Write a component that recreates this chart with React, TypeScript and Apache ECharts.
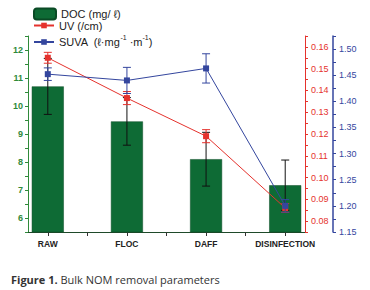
import React, { useEffect, useRef } from "react";
import * as echarts from "echarts";

const categories = ["RAW", "FLOC", "DAFF", "DISINFECTION"];
const catPos = [1, 2, 3, 4];
const docValues = [10.7, 9.45, 8.1, 7.17];
const docErr = [1.0, 0.85, 0.96, 0.9];
const uvValues = [0.155, 0.1365, 0.119, 0.086];
const uvErr = [0.0025, 0.003, 0.003, 0.002];
const suvaValues = [1.452, 1.44, 1.463, 1.2];
const suvaErr = [0.012, 0.025, 0.028, 0.012];

const DOC_NAME = "DOC (mg/ ℓ)";
const UV_NAME = "UV (/cm)";
const SUVA_NAME = "SUVA  (ℓ·mg-1 ·m-1)";

const GREEN = "#2f8a3a";
const BAR = "#0e6b35";
const RED = "#e5322d";
const BLUE = "#34469e";
const NUMFONT = "'Liberation Sans Narrow', 'Liberation Sans', Arial, sans-serif";
const LEGFONT = "'Liberation Sans', Arial, sans-serif";
const CAPFONT = "'Open Sans', sans-serif";

function errSeries(name: string, yIdx: number, vals: number[], errs: number[], color: string, z: number) {
  return {
    type: "custom",
    name: name + "_err",
    xAxisIndex: 0,
    yAxisIndex: yIdx,
    z,
    silent: true,
    encode: { x: 0, y: [1, 2] },
    data: vals.map((v, i) => [catPos[i], v - errs[i], v + errs[i]]),
    renderItem: (params: any, api: any) => {
      const x = api.value(0);
      const lo = api.coord([x, api.value(1)]);
      const hi = api.coord([x, api.value(2)]);
      const w = 4;
      const style = { stroke: color, lineWidth: 1 };
      return {
        type: "group",
        children: [
          { type: "line", shape: { x1: lo[0], y1: lo[1], x2: hi[0], y2: hi[1] }, style },
          { type: "line", shape: { x1: lo[0] - w, y1: lo[1], x2: lo[0] + w, y2: lo[1] }, style },
          { type: "line", shape: { x1: hi[0] - w, y1: hi[1], x2: hi[0] + w, y2: hi[1] }, style },
        ],
      };
    },
  };
}

const legText = { fontFamily: LEGFONT, fontSize: 11, color: "#222", lineHeight: 11 };

export default function App() {
  const ref = useRef<HTMLDivElement>(null);
  useEffect(() => {
    document.body.style.margin = "0";
    const chart = echarts.init(ref.current!, null, { renderer: "svg" });
    const isMult = (v: number, step: number) => Math.abs(v / step - Math.round(v / step)) < 1e-6;
    chart.setOption({
      animation: false,
      backgroundColor: "#ffffff",
      title: {
        left: 6,
        top: 269,
        text: "{b|Figure 1.} Bulk NOM removal parameters",
        textStyle: {
          fontFamily: CAPFONT,
          fontSize: 11,
          fontWeight: "normal",
          color: "#333",
          rich: {
            b: { fontFamily: CAPFONT, fontSize: 11, fontWeight: "bold", color: "#333" },
          },
        },
      },
      legend: [
        {
          data: [DOC_NAME],
          left: 33,
          top: 7.5,
          padding: 0,
          itemWidth: 22,
          itemHeight: 11,
          textStyle: legText,
        },
        {
          data: [UV_NAME],
          left: 33,
          top: 20,
          padding: 0,
          itemWidth: 20,
          itemHeight: 7,
          textStyle: legText,
        },
        {
          data: [SUVA_NAME],
          left: 33,
          top: 34,
          padding: 0,
          itemWidth: 20,
          itemHeight: 7,
          formatter: () => "{a|SUVA  (ℓ·mg}{s|-1}{a| ·m}{s|-1}{a|)}",
          textStyle: {
            ...legText,
            rich: {
              a: { fontFamily: LEGFONT, fontSize: 11, color: "#222", lineHeight: 16 },
              s: { fontFamily: LEGFONT, fontSize: 7, color: "#222", lineHeight: 8, verticalAlign: "top" },
            },
          },
        },
      ],
      grid: { left: 28, right: 65, top: 36, bottom: 58, containLabel: false },
      xAxis: {
        type: "value",
        min: 0.75,
        max: 4.25,
        splitLine: { show: false },
        axisLine: { show: true, lineStyle: { color: "#1f4a2a", width: 1 } },
        axisTick: { show: true, length: 4, customValues: [1, 1.5, 2, 2.5, 3, 3.5, 4], lineStyle: { color: "#333" } },
        axisLabel: {
          customValues: catPos,
          formatter: (v: number) => categories[Math.round(v) - 1] ?? "",
          margin: 7,
          fontFamily: NUMFONT,
          fontSize: 8.5,
          fontWeight: "bold",
          color: "#222",
        },
      },
      yAxis: [
        {
          type: "value",
          position: "left",
          min: 5.5,
          max: 12.5,
          interval: 0.5,
          splitLine: { show: false },
          axisLine: { show: true, lineStyle: { color: GREEN } },
          axisTick: { show: true, length: 3, lineStyle: { color: GREEN } },
          axisLabel: {
            formatter: (v: number) => (isMult(v, 1) ? String(Math.round(v)) : ""),
            margin: 5,
            fontFamily: NUMFONT,
            fontSize: 9,
            fontWeight: "bold",
            color: GREEN,
          },
        },
        {
          type: "value",
          position: "right",
          offset: 0,
          min: 0.075,
          max: 0.165,
          interval: 0.005,
          splitLine: { show: false },
          axisLine: { show: true, lineStyle: { color: RED } },
          axisTick: { show: true, length: 3, lineStyle: { color: RED } },
          axisLabel: {
            formatter: (v: number) => (isMult(v, 0.01) ? v.toFixed(2) : ""),
            margin: 6,
            fontFamily: NUMFONT,
            fontSize: 9,
            color: RED,
          },
        },
        {
          type: "value",
          position: "right",
          offset: 28,
          min: 1.15,
          max: 1.525,
          interval: 0.025,
          splitLine: { show: false },
          axisLine: { show: true, lineStyle: { color: BLUE, width: 1.5 } },
          axisTick: { show: true, length: 3, lineStyle: { color: BLUE } },
          axisLabel: {
            formatter: (v: number) => (isMult(v, 0.05) ? v.toFixed(2) : ""),
            margin: 6,
            fontFamily: NUMFONT,
            fontSize: 9,
            color: BLUE,
          },
        },
      ],
      series: [
        {
          type: "bar",
          name: DOC_NAME,
          xAxisIndex: 0,
          yAxisIndex: 0,
          barWidth: 32,
          z: 2,
          itemStyle: { color: BAR, borderColor: "#0a4a25", borderWidth: 0.5 },
          data: docValues.map((v, i) => [catPos[i], v]),
        },
        errSeries("doc", 0, docValues, docErr, "#111", 3),
        errSeries("uv", 1, uvValues, uvErr, RED, 4),
        {
          type: "line",
          name: UV_NAME,
          xAxisIndex: 0,
          yAxisIndex: 1,
          z: 5,
          symbol: "rect",
          symbolSize: 6,
          lineStyle: { color: RED, width: 1 },
          itemStyle: { color: RED },
          data: uvValues.map((v, i) => [catPos[i], v]),
        },
        errSeries("suva", 2, suvaValues, suvaErr, BLUE, 6),
        {
          type: "line",
          name: SUVA_NAME,
          xAxisIndex: 0,
          yAxisIndex: 2,
          z: 7,
          symbol: "rect",
          symbolSize: 6,
          lineStyle: { color: BLUE, width: 1 },
          itemStyle: { color: BLUE },
          data: suvaValues.map((v, i) => [catPos[i], v]),
        },
      ],
    });
    return () => chart.dispose();
  }, []);
  return <div ref={ref} style={{ width: 370, height: 290 }} />;
}
